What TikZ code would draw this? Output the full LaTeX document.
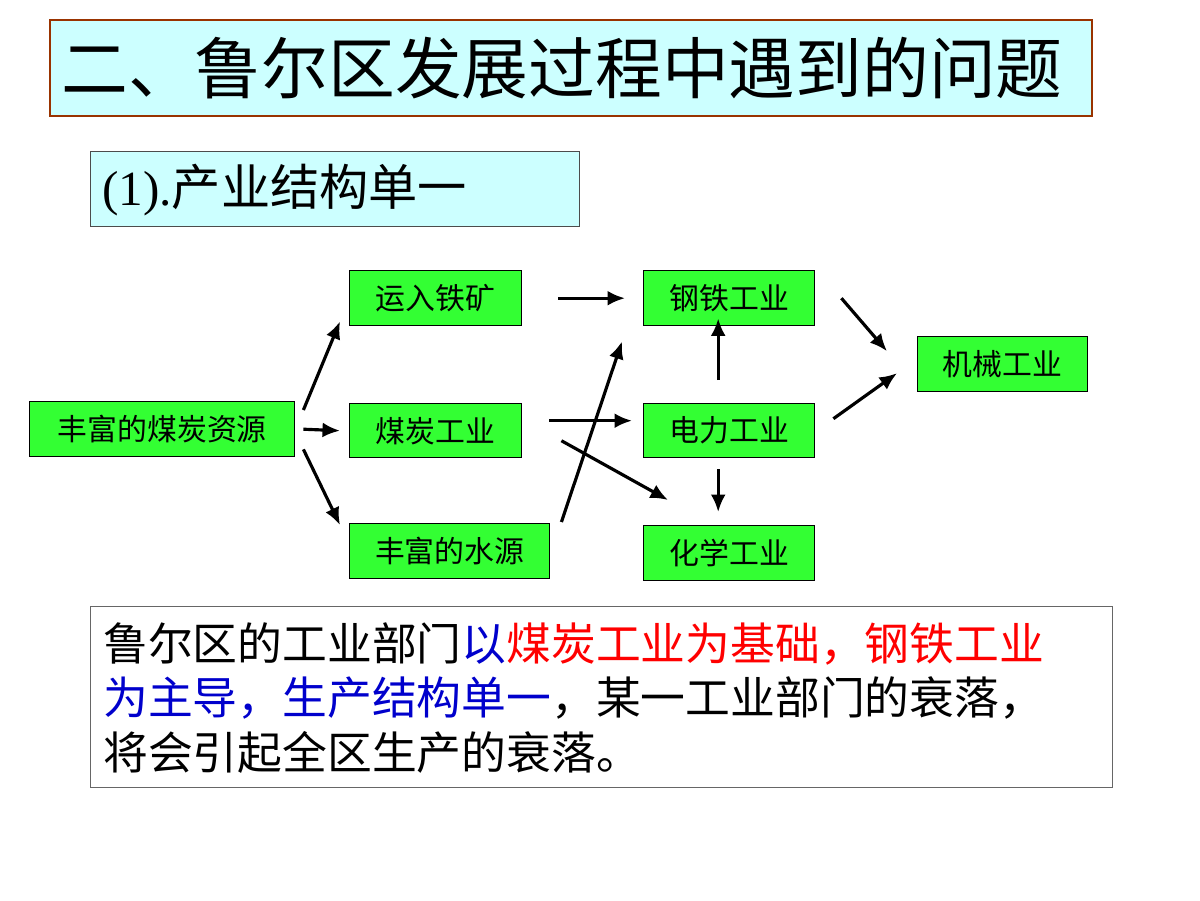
\documentclass[tikz,border=0pt]{standalone}
\usepackage{fontspec}
\setmainfont{Noto Sans CJK SC}
\newfontfamily\latfont{Liberation Serif}
\usepackage{xcolor}
\usetikzlibrary{calc,arrows.meta}
\definecolor{boxgreen}{RGB}{51,255,51}
\definecolor{titlecyan}{RGB}{204,255,255}
\definecolor{titlebrown}{RGB}{153,51,0}
\tikzset{
  gbox/.style={draw=black,thick,fill=boxgreen,inner sep=0pt,anchor=north west,
    font=\fontsize{17}{20}\selectfont},
  flow/.style={-{Latex[length=3.5mm,width=3mm]},line width=1.8pt}
}
\begin{document}
\begin{tikzpicture}[x=0.02cm,y=-0.02cm]
        \useasboundingbox (0,0) rectangle (1200,900);
        %%% TITLES %%%
        \draw[fill=titlecyan,draw=titlebrown,line width=1.5pt] (50,20) rectangle (1092,116);
        \node (title) at (562,68) {\fontsize{38}{44}\selectfont 二、鲁尔区发展过程中遇到的问题};
        \draw[fill=titlecyan,draw=black!70] (90,151) rectangle (579,226);
        \node[anchor=west] (sub) at (96,190) {\fontsize{28}{34}\selectfont{\latfont (1).}产业结构单一};

        %%% BOXES %%%
        \node[gbox,minimum width=172*0.02cm,minimum height=55*0.02cm] (ore) at (349,270) {运入铁矿};
        \node[gbox,minimum width=171*0.02cm,minimum height=55*0.02cm] (steel) at (643,270) {钢铁工业};
        \node[gbox,minimum width=170*0.02cm,minimum height=55*0.02cm] (mach) at (917,336) {机械工业};
        \node[gbox,minimum width=265*0.02cm,minimum height=55*0.02cm] (coalres) at (29,401) {丰富的煤炭资源};
        \node[gbox,minimum width=172*0.02cm,minimum height=54*0.02cm] (coal) at (349,403) {煤炭工业};
        \node[gbox,minimum width=171*0.02cm,minimum height=54*0.02cm] (power) at (643,403) {电力工业};
        \node[gbox,minimum width=200*0.02cm,minimum height=55*0.02cm] (water) at (349,523) {丰富的水源};
        \node[gbox,minimum width=171*0.02cm,minimum height=55*0.02cm] (chem) at (643,525) {化学工业};

        %%% ARROWS %%%
        \draw[flow] ($(coalres.north east)+(8,9)$) -- ($(ore.south west)+(-9,-5)$);
        \draw[flow] ($(coalres.east)+(8,0)$) -- ($(coal.west)+(-9,0)$);
        \draw[flow] ($(coalres.south east)+(8,-8)$) -- ($(water.north west)+(-9,2)$);
        \draw[flow] ($(ore.east)+(36,0)$) -- ($(steel.west)+(-18,0)$);
        \draw[flow] ($(coal.east)+(27,-10)$) -- ($(power.west)+(-11,-10)$);
        \draw[flow] ($(coal.east)+(39,10)$) -- ($(chem.north west)+(25,-25)$);
        \draw[flow] ($(water.north east)+(11,-1)$) -- ($(steel.south west)+(-21,15)$);
        \draw[flow] ($(power.north)+(-11,-23)$) -- ($(steel.south)+(-11,-8)$);
        \draw[flow] ($(power.south)+(-11,11)$) -- ($(chem.north)+(-11,-13)$);
        \draw[flow] ($(steel.east)+(26,0)$) -- ($(mach.west)+(-30,-13)$);
        \draw[flow] ($(power.east)+(18,-12)$) -- ($(mach.west)+(-20,9)$);

        %%% SUMMARY %%%
        \draw[fill=white,draw=black!60] (90,606) rectangle (1112,787);
        \node[anchor=north west,align=left,inner sep=0pt,font=\fontsize{25.5}{31.2}\selectfont] (summary) at (103,622)
          {鲁尔区的工业部门\textcolor{blue!80!black}{以}\textcolor{red}{煤炭工业为基础，钢铁工业}\\
           \textcolor{blue!80!black}{为主导，生产结构单一}，某一工业部门的衰落，\\
           将会引起全区生产的衰落。};
\end{tikzpicture}
\end{document}
